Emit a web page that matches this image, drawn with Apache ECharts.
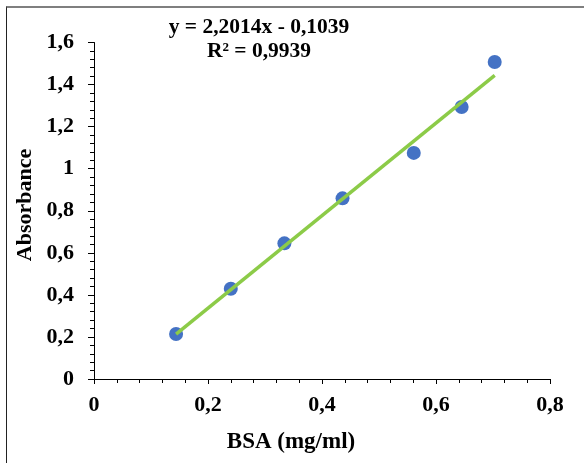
<!DOCTYPE html>
<html>
<head>
<meta charset="utf-8">
<script src="https://cdn.jsdelivr.net/npm/echarts@6/dist/echarts.min.js"></script>
<style>
html,body{margin:0;padding:0;background:#fff;}
#frame{position:absolute;left:6px;top:6px;width:600px;height:500px;border-top:2px solid #7f7f7f;border-left:1px solid #222;}
#chart{position:absolute;left:0;top:0;width:584px;height:463px;}
</style>
</head>
<body>
<div id="frame"></div>
<div id="chart"></div>
<script>
// Data
const bsa = [0.144, 0.240, 0.334, 0.436, 0.561, 0.645, 0.703];
const absorbance = [0.214, 0.429, 0.645, 0.859, 1.075, 1.293, 1.507];
const slope = 2.2014;
const intercept = -0.1039;
const equationText = 'y = 2,2014x - 0,1039';
const r2Text = 'R² = 0,9939';
const xTitle = 'BSA (mg/ml)';
const yTitle = 'Absorbance';

const points = bsa.map((x, i) => [x, absorbance[i]]);
const xMin = Math.min(...bsa), xMax = Math.max(...bsa);
const trend = [[xMin, slope * xMin + intercept], [xMax, slope * xMax + intercept]];

const font = 'Liberation Serif, Times New Roman, serif';
const fmt = v => String(+v.toFixed(2)).replace('.', ',');

const chart = echarts.init(document.getElementById('chart'), null, {renderer: 'canvas'});
chart.setOption({
  animation: false,
  backgroundColor: 'transparent',
  grid: {left: 94, right: 34, top: 42.5, bottom: 84, containLabel: false},
  xAxis: {
    type: 'value', min: 0, max: 0.8, interval: 0.2,
    axisLine: {show: true, onZero: false, lineStyle: {color: '#000', width: 1}},
    axisTick: {show: true, inside: false, length: 5, lineStyle: {color: '#000'}},
    minorTick: {show: true, splitNumber: 5, length: 4, lineStyle: {color: '#000'}},
    splitLine: {show: false},
    axisLabel: {margin: 15, fontFamily: font, fontWeight: 'bold', fontSize: 22, color: '#000', formatter: fmt}
  },
  yAxis: {
    type: 'value', min: 0, max: 1.6, interval: 0.2,
    axisLine: {show: true, onZero: false, lineStyle: {color: '#000', width: 1}},
    axisTick: {show: true, inside: false, length: 6, lineStyle: {color: '#000'}},
    minorTick: {show: true, splitNumber: 5, length: 4, lineStyle: {color: '#000'}},
    splitLine: {show: false},
    axisLabel: {margin: 20, fontFamily: font, fontWeight: 'bold', fontSize: 22, color: '#000', formatter: fmt}
  },
  series: [
    {
      type: 'scatter', data: points, symbol: 'circle', symbolSize: 14,
      itemStyle: {color: '#4472C4', opacity: 1}, z: 2
    },
    {
      type: 'line', data: trend, showSymbol: false, symbol: 'none',
      lineStyle: {color: '#8CCB48', width: 3.5}, z: 3
    }
  ],
  graphic: [
    {type: 'text', style: {text: equationText, font: 'bold 21.5px ' + font, fill: '#000', textAlign: 'center', textVerticalAlign: 'middle'}, position: [259, 27]},
    {type: 'text', style: {text: r2Text, font: 'bold 21.5px ' + font, fill: '#000', textAlign: 'center', textVerticalAlign: 'middle'}, position: [259, 51]},
    {type: 'text', style: {text: xTitle, font: 'bold 23px ' + font, fill: '#000', textAlign: 'center', textVerticalAlign: 'middle'}, position: [291, 442]},
    {type: 'text', rotation: Math.PI / 2, style: {text: yTitle, font: 'bold 22px ' + font, fill: '#000', textAlign: 'center', textVerticalAlign: 'middle'}, position: [25, 205]}
  ]
});
</script>
</body>
</html>
